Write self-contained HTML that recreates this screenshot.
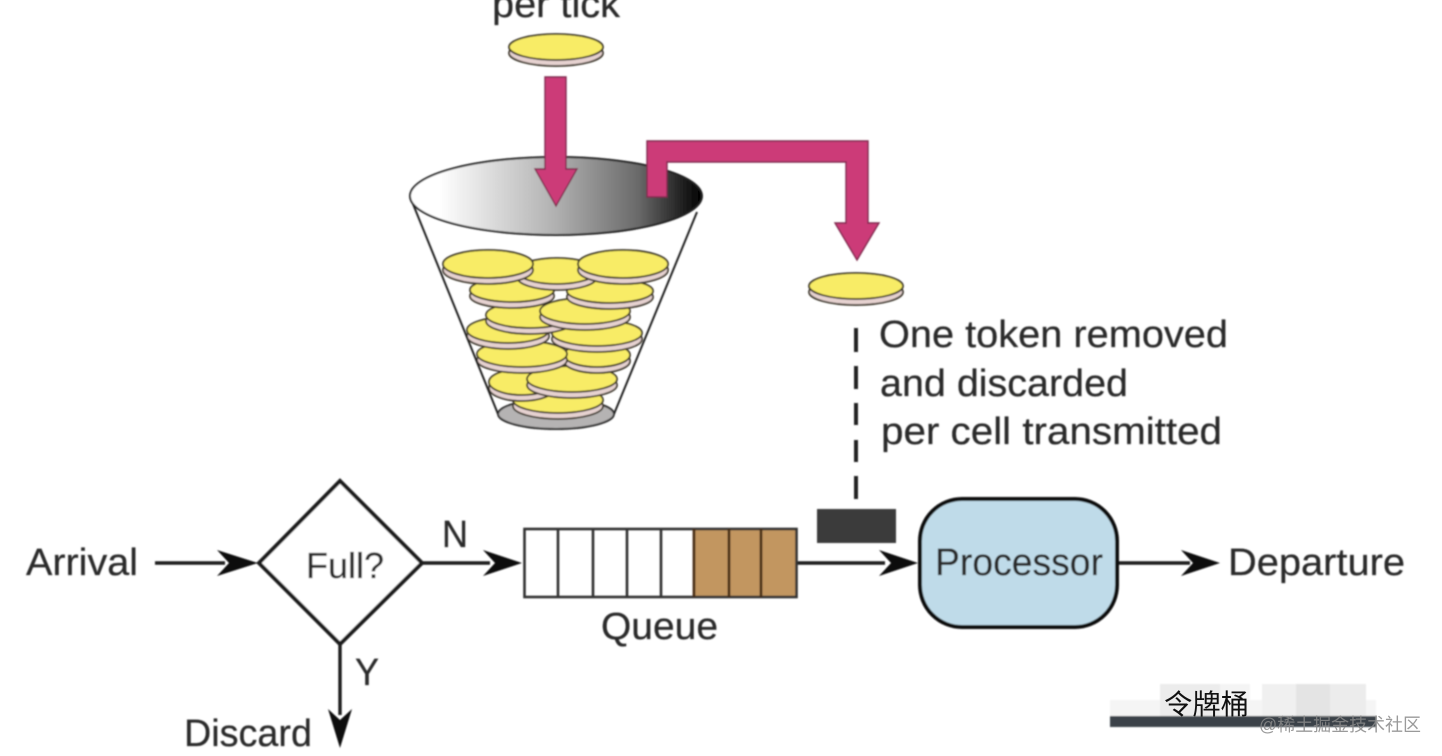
<!DOCTYPE html>
<html lang="en"><head><meta charset="utf-8"><title>Token bucket</title>
<style>
html,body{margin:0;padding:0;background:#fff;width:1442px;height:756px;overflow:hidden}
svg{display:block}
.t{font-family:"Liberation Sans","Noto Sans CJK SC",sans-serif;fill:#2c2c2c;font-size:38px;stroke:#2c2c2c;stroke-width:.25px}
</style></head><body>
<svg width="1442" height="756" viewBox="0 0 1442 756" xmlns="http://www.w3.org/2000/svg">
<defs>
<linearGradient id="g" x1="0" x2="1" y1="0" y2="0">
<stop offset="0.1" stop-color="#fff"/><stop offset="0.5" stop-color="#b0b0b0"/><stop offset="0.78" stop-color="#6a6a6a"/><stop offset="1" stop-color="#000"/>
</linearGradient>
<filter id="b" x="-5%" y="-5%" width="110%" height="110%"><feGaussianBlur stdDeviation="0.8"/></filter>
</defs>
<rect width="1442" height="756" fill="#fff"/>
<g filter="url(#b)">
<!-- top coin -->
<g stroke="#3a3428" stroke-width="1.8">
<ellipse cx="556" cy="53" rx="47" ry="13" fill="#e6d2d0"/>
<ellipse cx="556" cy="47" rx="47" ry="13" fill="#f8ec66"/>
<ellipse cx="856" cy="292" rx="47" ry="13" fill="#e6d2d0"/>
<ellipse cx="856" cy="286" rx="47" ry="13" fill="#f8ec66"/>
</g>
<!-- bucket -->
<ellipse cx="556" cy="414" rx="58" ry="15" fill="#b5b3b3" stroke="#333" stroke-width="2"/>
<g stroke="#3a3428" stroke-width="1.8">
<ellipse cx="558" cy="406" rx="45" ry="13" fill="#e6d2d0"/><ellipse cx="558" cy="400" rx="45" ry="13" fill="#f8ec66"/>
<ellipse cx="522" cy="388" rx="33" ry="13" fill="#e6d2d0"/><ellipse cx="522" cy="382" rx="33" ry="13" fill="#f8ec66"/>
<ellipse cx="572" cy="385" rx="45" ry="13" fill="#e6d2d0"/><ellipse cx="572" cy="379" rx="45" ry="13" fill="#f8ec66"/>
<ellipse cx="597" cy="361" rx="33" ry="12" fill="#e6d2d0"/><ellipse cx="597" cy="355" rx="33" ry="12" fill="#f8ec66"/>
<ellipse cx="522" cy="360" rx="45" ry="13" fill="#e6d2d0"/><ellipse cx="522" cy="354" rx="45" ry="13" fill="#f8ec66"/>
<ellipse cx="597" cy="339" rx="45" ry="13" fill="#e6d2d0"/><ellipse cx="597" cy="333" rx="45" ry="13" fill="#f8ec66"/>
<ellipse cx="508" cy="336" rx="41" ry="13" fill="#e6d2d0"/><ellipse cx="508" cy="330" rx="41" ry="13" fill="#f8ec66"/>
<ellipse cx="530" cy="321" rx="44" ry="13" fill="#e6d2d0"/><ellipse cx="530" cy="315" rx="44" ry="13" fill="#f8ec66"/>
<ellipse cx="585" cy="317" rx="45" ry="13" fill="#e6d2d0"/><ellipse cx="585" cy="311" rx="45" ry="13" fill="#f8ec66"/>
<ellipse cx="512" cy="296" rx="42" ry="12" fill="#e6d2d0"/><ellipse cx="512" cy="290" rx="42" ry="12" fill="#f8ec66"/>
<ellipse cx="610" cy="297" rx="43" ry="12" fill="#e6d2d0"/><ellipse cx="610" cy="291" rx="43" ry="12" fill="#f8ec66"/>
<ellipse cx="557" cy="277" rx="40" ry="13" fill="#e6d2d0"/><ellipse cx="557" cy="271" rx="40" ry="13" fill="#f8ec66"/>
<ellipse cx="488" cy="270" rx="45" ry="14" fill="#e6d2d0"/><ellipse cx="488" cy="264" rx="45" ry="14" fill="#f8ec66"/>
<ellipse cx="623" cy="270" rx="45" ry="14" fill="#e6d2d0"/><ellipse cx="623" cy="264" rx="45" ry="14" fill="#f8ec66"/>
</g>
<path d="M413 204 L498 414 M697 212 L614 414" stroke="#222" stroke-width="2" fill="none"/>
<ellipse cx="556" cy="196" rx="146" ry="39" fill="url(#g)" stroke="#222" stroke-width="2"/>
<!-- magenta arrows -->
<path d="M545 77 H566 V169 H577 L556 206 L535 169 H545 Z" fill="#cc3a78" stroke="#7f2a4e" stroke-width="1.4"/>
<path d="M647 197 V141 H868 V223 H879 L857 260 L835 223 H846 V162 H667 V197 Z" fill="#cc3a78" stroke="#7f2a4e" stroke-width="1.4"/>
<!-- dashed -->
<path d="M856 328 V352 M856 366 V389 M856 403 V425 M856 440 V462 M856 476 V499" stroke="#222" stroke-width="4" fill="none"/>
<!-- flow -->
<g stroke="#1c1c1c" stroke-width="3.4" fill="none">
<path d="M155 563 H225"/>
<path d="M422 563 H490"/>
<path d="M797 563 H885"/>
<path d="M1118 563 H1190"/>
<path d="M340 644 V715"/>
<path d="M340 481 L422 563 L340 644 L259 563 Z" stroke-width="4" fill="#fff"/>
</g>
<g fill="#111">
<path d="M258 563 L217 550 L229 563 L217 576 Z"/>
<path d="M522 563 L483 550 L495 563 L483 576 Z"/>
<path d="M918 563 L879 550 L891 563 L879 576 Z"/>
<path d="M1220 563 L1181 550 L1193 563 L1181 576 Z"/>
<path d="M340 748 L328 709 L340 720 L352 709 Z"/>
</g>
<!-- queue -->
<rect x="694" y="529" width="103" height="68" fill="#c29660"/>
<rect x="524.5" y="529" width="272" height="68" fill="none" stroke="#333" stroke-width="2.6"/>
<path d="M558 529 V597 M593 529 V597 M627 529 V597 M661 529 V597" stroke="#333" stroke-width="2.6" fill="none"/>
<path d="M694 529 V597 M729 529 V597 M761 529 V597" stroke="#4a2e12" stroke-width="2.8" fill="none"/>
<rect x="817" y="509" width="79" height="34" fill="#3a3a3a"/>
<rect x="920" y="499" width="197" height="128" rx="42" fill="#bfdbe9" stroke="#111" stroke-width="4"/>
<!-- labels -->
<text class="t" x="492" y="17" textLength="128" lengthAdjust="spacingAndGlyphs">per tick</text>
<text class="t" x="879" y="347" textLength="349" lengthAdjust="spacingAndGlyphs">One token removed</text>
<text class="t" x="880" y="396" textLength="248" lengthAdjust="spacingAndGlyphs">and discarded</text>
<text class="t" x="881" y="444" textLength="341" lengthAdjust="spacingAndGlyphs">per cell transmitted</text>
<text class="t" x="26" y="575" textLength="112" lengthAdjust="spacingAndGlyphs">Arrival</text>
<text class="t" x="306" y="578" style="font-size:36px" textLength="78" lengthAdjust="spacingAndGlyphs">Full?</text>
<text class="t" x="442" y="547" textLength="26" lengthAdjust="spacingAndGlyphs">N</text>
<text class="t" x="355" y="685" textLength="24" lengthAdjust="spacingAndGlyphs">Y</text>
<text class="t" x="184" y="746" textLength="128" lengthAdjust="spacingAndGlyphs">Discard</text>
<text class="t" x="601" y="639" textLength="117" lengthAdjust="spacingAndGlyphs">Queue</text>
<text class="t" x="935" y="575" textLength="168" lengthAdjust="spacingAndGlyphs">Processor</text>
<text class="t" x="1228" y="575" textLength="177" lengthAdjust="spacingAndGlyphs">Departure</text>
<!-- watermark -->
<rect x="1110" y="700" width="266" height="17" fill="#f5f5f5"/>
<rect x="1160" y="684" width="60" height="33" fill="#ececec"/>
<rect x="1220" y="684" width="30" height="33" fill="#f4f4f4"/>
<rect x="1262" y="684" width="34" height="33" fill="#f0f0f0"/>
<rect x="1296" y="684" width="34" height="33" fill="#e4e4e4"/>
<rect x="1330" y="684" width="36" height="33" fill="#ececec"/>
<rect x="1110" y="716" width="266" height="11" fill="#3a4248"/>
</g>
<text x="1164" y="714" font-family="'Liberation Sans','Noto Sans CJK SC',sans-serif" font-size="28" fill="#111" textLength="85" lengthAdjust="spacingAndGlyphs">令牌桶</text>
<text x="1259" y="731" font-family="'Liberation Sans','Noto Sans CJK SC',sans-serif" font-size="18" fill="#888" fill-opacity="0.85" textLength="162" lengthAdjust="spacingAndGlyphs">@稀土掘金技术社区</text>
</svg>
</body></html>
